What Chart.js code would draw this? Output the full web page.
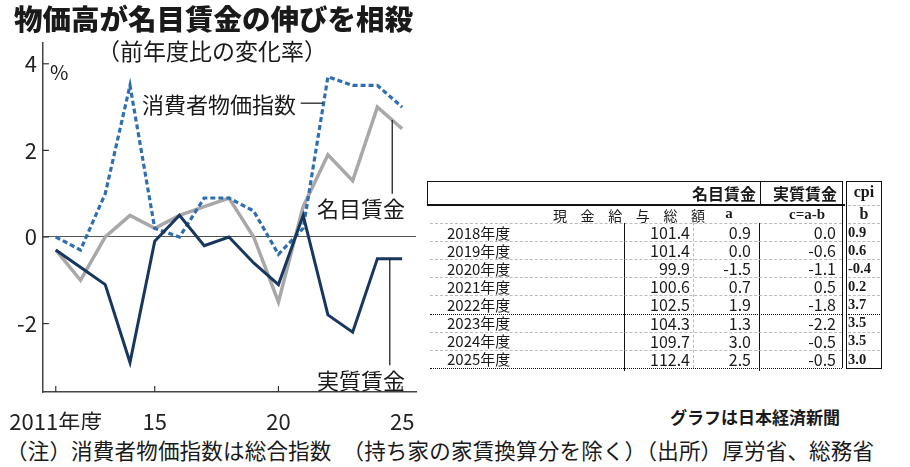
<!DOCTYPE html>
<html>
<head>
<meta charset="utf-8">
<script src="https://cdn.jsdelivr.net/npm/chart.js@4.4.1/dist/chart.umd.min.js"></script>
<style>
body { margin: 0; width: 910px; height: 467px; background: #fff; position: relative; overflow: hidden;
       font-family: "Noto Sans CJK JP", sans-serif; color: #1a1a1a; }
.t { position: absolute; white-space: nowrap; line-height: 1; }
#wrap { position: absolute; left: 0; top: 0; width: 430px; height: 430px; }
.ln { position: absolute; }
.num { font-family: "Liberation Sans Narrow", "Noto Sans CJK JP", sans-serif; }
.lbl { font-size: 13px; }
.ser { font-family: "Liberation Serif", serif; font-weight: bold; }
</style>
</head>
<body>
<div id="wrap"><canvas id="chart"></canvas></div>

<div class="t" style="left:14px;top:4px;font-size:28.5px;font-weight:900;">物価高が名目賃金の伸びを相殺</div>
<div class="t" style="left:97px;top:39px;font-size:23px;">（前年度比の変化率）</div>
<div class="t" style="left:50px;top:62px;font-size:20px;">%</div>
<div class="t" style="left:142px;top:92px;font-size:22px;">消費者物価指数</div>
<div class="t" style="left:317px;top:196px;font-size:22px;">名目賃金</div>
<div class="t" style="left:317px;top:368px;font-size:22px;">実質賃金</div>
<div class="t" style="left:670px;top:408px;font-size:17px;font-weight:700;">グラフは日本経済新聞</div>
<div class="t" style="left:6px;top:439px;font-size:21.5px;letter-spacing:0.2px;">（注）消費者物価指数は総合指数　（持ち家の家賃換算分を除く）（出所）厚労省、総務省</div>

<div id="table"></div>

<script>
// 年度
const years = [2011, 2012, 2013, 2014, 2015, 2016, 2017, 2018, 2019, 2020, 2021, 2022, 2023, 2024, 2025];
// 消費者物価指数（前年度比 %）
const cpi = [0.0, -0.3, 1.0, 3.5, 0.2, 0.0, 0.9, 0.9, 0.6, -0.4, 0.2, 3.7, 3.5, 3.5, 3.0];
// 名目賃金
const nominal = [-0.3, -1.0, 0.0, 0.5, 0.2, 0.5, 0.7, 0.9, 0.0, -1.5, 0.7, 1.9, 1.3, 3.0, 2.5];
// 実質賃金
const real = [-0.3, -0.7, -1.1, -2.9, -0.1, 0.5, -0.2, 0.0, -0.6, -1.1, 0.5, -1.8, -2.2, -0.5, -0.5];

const xTicks = [2011, 2015, 2020, 2025];
const yTicks = [-2, 0, 2, 4];

// 表（2018年度〜）
const tableYears = ['2018年度', '2019年度', '2020年度', '2021年度', '2022年度', '2023年度', '2024年度', '2025年度'];
const tableTotal = ['101.4', '101.4', '99.9', '100.6', '102.5', '104.3', '109.7', '112.4'];
const tableFrom = years.indexOf(2018);

function pts(arr) {
    return years.map((y, i) => ({ x: y, y: arr[i] }));
}

// 引き出し線と目盛り
const extras = {
    id: 'extras',
    afterDraw(chart) {
        const c = chart.ctx, xs = chart.scales.x, ys = chart.scales.y, a = chart.chartArea;
        c.save();
        c.strokeStyle = '#333';
        c.lineWidth = 1.2;
        yTicks.forEach(v => {
            const p = ys.getPixelForValue(v);
            c.beginPath(); c.moveTo(a.left, p); c.lineTo(a.left + 6, p); c.stroke();
        });
        xTicks.forEach(v => {
            const p = xs.getPixelForValue(v);
            c.beginPath(); c.moveTo(p, a.bottom); c.lineTo(p, a.bottom - 6); c.stroke();
        });
        c.strokeStyle = '#222';
        c.lineWidth = 1.3;
        // 消費者物価指数
        c.beginPath();
        c.moveTo(xs.getPixelForValue(2020.9), ys.getPixelForValue(3.09));
        c.lineTo(xs.getPixelForValue(2021.8), ys.getPixelForValue(3.09));
        c.stroke();
        // 名目賃金
        c.beginPath();
        c.moveTo(xs.getPixelForValue(2024.6), ys.getPixelForValue(2.7));
        c.lineTo(xs.getPixelForValue(2024.6), ys.getPixelForValue(1.0));
        c.stroke();
        // 実質賃金
        c.beginPath();
        c.moveTo(xs.getPixelForValue(2024.5), ys.getPixelForValue(-0.5));
        c.lineTo(xs.getPixelForValue(2024.5), ys.getPixelForValue(-2.96));
        c.stroke();
        c.restore();
    }
};

const tickFont = { family: '"Liberation Sans Narrow", "Noto Sans CJK JP", sans-serif', size: 22 };

new Chart(document.getElementById('chart'), {
    type: 'line',
    data: {
        datasets: [
            {
                label: '実質賃金',
                data: pts(real),
                borderColor: '#17375e',
                borderWidth: 3,
                order: 1
            },
            {
                label: '消費者物価指数',
                data: pts(cpi),
                borderColor: '#2f6fb0',
                borderWidth: 3.2,
                borderDash: [5, 3],
                order: 2
            },
            {
                label: '名目賃金',
                data: pts(nominal),
                borderColor: '#a8a8a8',
                borderWidth: 3.5,
                order: 3
            }
        ]
    },
    options: {
        responsive: true,
        maintainAspectRatio: false,
        animation: false,
        events: [],
        layout: { padding: { top: 43, right: 14, left: 0, bottom: 0 } },
        elements: {
            point: { radius: 0 },
            line: { tension: 0, borderJoinStyle: 'miter', borderCapStyle: 'butt' }
        },
        plugins: { legend: { display: false }, tooltip: { enabled: false } },
        scales: {
            x: {
                type: 'linear',
                min: 2010.48,
                max: 2025.56,
                afterBuildTicks: s => { s.ticks = xTicks.map(v => ({ value: v })); },
                afterFit: s => { s.height = 38; },
                grid: { display: false },
                border: { display: true, color: '#444', width: 1.5 },
                ticks: {
                    padding: 8,
                    maxRotation: 0,
                    autoSkip: false,
                    color: '#222',
                    font: tickFont,
                    callback: v => v === 2011 ? '2011年度' : String(v % 100)
                }
            },
            y: {
                min: -3.58,
                max: 4.48,
                afterBuildTicks: s => { s.ticks = yTicks.map(v => ({ value: v })); },
                afterFit: s => { s.width = 39; },
                grid: {
                    drawTicks: false,
                    color: ctx => ctx.tick && ctx.tick.value === 0 ? '#555' : 'rgba(0,0,0,0)',
                    lineWidth: 1
                },
                border: { display: true, color: '#444', width: 1.5 },
                ticks: {
                    padding: 6,
                    color: '#222',
                    font: tickFont,
                    callback: v => String(v)
                }
            }
        }
    },
    plugins: [extras]
});

// 表を組み立てる
const tbl = document.getElementById('table');
function hline(x1, x2, y, css) {
    const d = document.createElement('div');
    d.className = 'ln';
    d.style.cssText = `left:${x1}px;top:${y}px;width:${x2 - x1}px;height:0;border-top:${css};`;
    tbl.appendChild(d);
}
function vline(x, y1, y2, css) {
    const d = document.createElement('div');
    d.className = 'ln';
    d.style.cssText = `left:${x}px;top:${y1}px;height:${y2 - y1}px;width:0;border-left:${css};`;
    tbl.appendChild(d);
}
function text(s, x, yc, cls, align, size) {
    const d = document.createElement('div');
    d.className = 't ' + cls;
    d.textContent = s;
    const fs = size || 13;
    d.style.fontSize = fs + 'px';
    d.style.top = (yc - fs / 2) + 'px';
    if (align === 'right') d.style.right = (910 - x) + 'px';
    else if (align === 'center') { d.style.left = (x - 40) + 'px'; d.style.width = '80px'; d.style.textAlign = 'center'; }
    else d.style.left = x + 'px';
    tbl.appendChild(d);
    return d;
}

const rowTop = 223, rowH = 18.1;
// 枠線
hline(427, 843, 181, '1.5px solid #111');
hline(427, 845, 204, '2px solid #111');
vline(427, 181, 205, '1.5px solid #111');
vline(760, 181, 205, '1px solid #111');
vline(842, 181, 368, '1.5px solid #111');
vline(846, 181, 368, '1.5px solid #111');
vline(881, 181, 369, '1.5px solid #111');
hline(846, 882, 181, '1.5px solid #111');
hline(846, 882, 368, '1.5px solid #111');
hline(848, 880, 205, '1px dashed #bbb');
hline(430, 842, 223, '1px dashed #bbb');
hline(848, 880, 223, '1px dashed #bbb');
vline(624, 223, 371, '1.2px solid #111');
vline(693, 223, 368, '1px dashed #bbb');
vline(759, 223, 371, '1.2px solid #111');

// 見出し
text('名目賃金', 756, 193, '', 'right', 16).style.fontWeight = '700';
text('実質賃金', 805, 193, '', 'center', 16).style.fontWeight = '700';
text('cpi', 864, 192, 'ser', 'center', 16);
['現', '金', '給', '与', '総', '額'].forEach((ch, i) => text(ch, 553 + i * 27.6, 215, 'lbl', 'left', 14));
text('a', 729, 213, 'ser', 'center', 15);
text('c=a-b', 807, 214, 'ser', 'center', 15);
text('b', 864, 214, 'ser', 'center', 16);

tableYears.forEach((yr, i) => {
    const top = rowTop + i * rowH, yc = top + rowH / 2;
    const k = tableFrom + i;
    text(yr, 447, yc, 'num', 'left', 15);
    text(tableTotal[i], 690, yc, 'num', 'right', 16);
    text(nominal[k].toFixed(1), 751, yc, 'num', 'right', 16);
    text(real[k].toFixed(1), 836, yc, 'num', 'right', 16);
    text(cpi[k].toFixed(1), 848, yc, 'ser', 'left', 14.5);
    if (i > 0) {
        const y = Math.round(top);
        if (i === 5) {
            hline(430, 842, y, '1px dotted #111');
            hline(848, 880, y, '1px dotted #111');
        } else {
            hline(430, 842, y, '1px dashed #bbb');
            hline(848, 880, y, '1px dashed #bbb');
        }
    }
});
hline(430, 842, 368, '1px dotted #111');
</script>
</body>
</html>
